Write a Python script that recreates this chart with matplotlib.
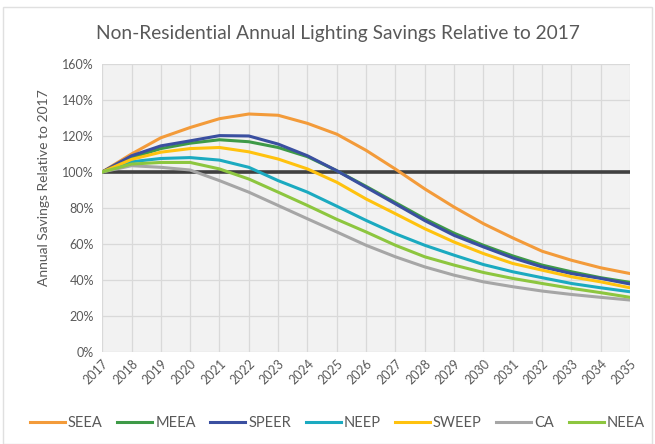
import matplotlib
matplotlib.use("Agg")
import matplotlib.pyplot as plt
from matplotlib.ticker import PercentFormatter

plt.rcParams["font.family"] = ["Lato", "DejaVu Sans"]

TEXT_CLR = "#595959"
PANEL_BG = "#F2F2F2"
GRID_CLR = "#D9D9D9"

years = list(range(2017, 2036))

seea = [100, 110, 119, 124.7, 129.6, 132.2, 131.5, 127, 121, 112, 101.6, 90.6, 80.5, 71.3, 63.4, 56, 51, 46.8, 43.6]
meea = [100, 108, 113, 116, 117.9, 116.8, 113.6, 108.5, 100.7, 92, 83, 74, 66, 59.3, 53.4, 48.3, 44.6, 41.3, 38.7]
speer = [100, 109, 114.5, 117.3, 120.2, 120, 115.5, 109, 100.7, 91.5, 82.3, 73, 64.8, 58.4, 52.3, 47.3, 43.6, 40.9, 37.8]
neep = [100, 105.7, 107.5, 108, 106.6, 102.6, 95.2, 88.8, 81, 73.1, 65.7, 59.3, 53.8, 48.6, 44.6, 41.3, 38.1, 35.7, 33.5]
sweep = [100, 107, 111, 113, 113.6, 111.2, 107.2, 101.7, 94.3, 85, 76.8, 68.5, 61.1, 54.7, 49.2, 45.5, 41.8, 39, 35.7]
ca = [100, 103.5, 102.6, 101.1, 95.2, 88.8, 81.4, 74, 66.7, 59.3, 52.9, 47.3, 42.7, 39, 36.3, 33.9, 32, 30.4, 28.9]
neea = [100, 104.4, 105.3, 105.3, 101.7, 96.1, 88.8, 81.4, 73.7, 66.7, 59.3, 52.9, 48.3, 44.2, 40.9, 38.1, 35.4, 33, 30.4]

series = [
    ("SEEA", seea, "#F39B3A"),
    ("MEEA", meea, "#3E9A47"),
    ("SPEER", speer, "#3A4FA0"),
    ("NEEP", neep, "#1BAAC0"),
    ("SWEEP", sweep, "#FFC20E"),
    ("CA", ca, "#A6A6A6"),
    ("NEEA", neea, "#8DC63F"),
]

fig = plt.figure(figsize=(6.55, 4.44), dpi=100)
ax = fig.add_axes([0.156, 0.207, 0.806, 0.649])
ax.set_facecolor(PANEL_BG)

ax.axhline(100, color="#404040", lw=2.6, zorder=2)
for name, vals, clr in series:
    ax.plot(years, vals, color=clr, lw=2.2, label=name, zorder=3)

ax.set_xlim(2017, 2035)
ax.set_ylim(0, 160)
ax.set_xticks(years)
ax.set_xticklabels([str(y) for y in years], rotation=45, ha="right", rotation_mode="anchor", fontsize=9, color=TEXT_CLR)
ax.set_yticks(range(0, 161, 20))
ax.yaxis.set_major_formatter(PercentFormatter(decimals=0))
ax.tick_params(axis="y", labelsize=9, labelcolor=TEXT_CLR, length=0, pad=6)
ax.tick_params(axis="x", length=0, pad=4)
ax.grid(True, color=GRID_CLR, lw=0.9, zorder=1)
ax.set_axisbelow(True)
for s in ax.spines.values():
    s.set_visible(False)

ax.set_ylabel("Annual Savings Relative to 2017", fontsize=10, color=TEXT_CLR)
ax.yaxis.set_label_coords(-0.098, 0.57)
fig.text(0.516, 0.925, "Non-Residential Annual Lighting Savings Relative to 2017", ha="center", va="center", fontsize=13.8, color=TEXT_CLR)

fig.legend(loc="center", bbox_to_anchor=(0.515, 0.047), ncol=7, frameon=False, fontsize=10.5,
           handlelength=2.4, handletextpad=0.2, columnspacing=1.0, labelcolor=TEXT_CLR)

fig.patches.append(plt.Rectangle((0.005, 0.0), 0.99, 0.985, transform=fig.transFigure, fill=False, edgecolor="#E0E0E0", lw=1))

fig.savefig("out.png", dpi=100, facecolor="white")
